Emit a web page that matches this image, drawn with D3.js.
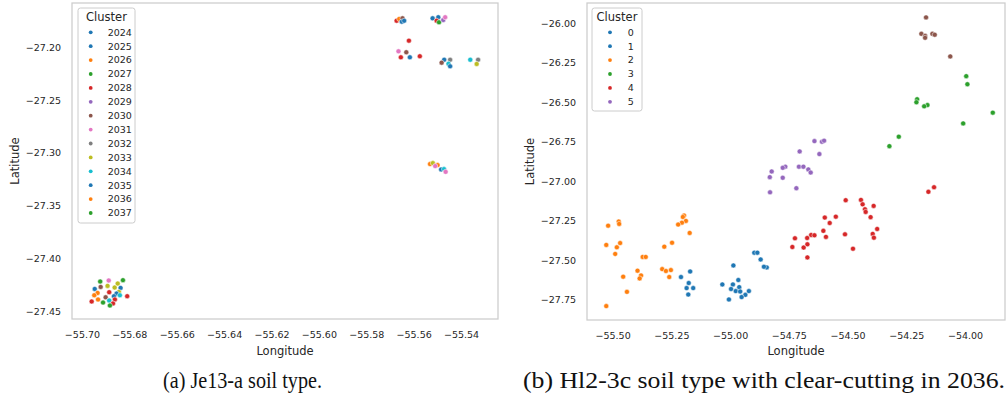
<!DOCTYPE html>
<html>
<head>
<meta charset="utf-8">
<script src="https://cdn.jsdelivr.net/npm/d3@7"></script>
<style>
  body { margin: 0; background: #fff; }
  svg { display: block; font-family: "DejaVu Sans", sans-serif; }
  .tick text { fill: #262626; font-size: 9.5px; font-family: "DejaVu Sans", sans-serif; }
  .lab { fill: #262626; font-size: 11.5px; font-family: "DejaVu Sans", sans-serif; }
  .cap { font-family: "Liberation Serif", serif; font-size: 22.5px; fill: #111; }
</style>
</head>
<body>
<svg width="1008" height="408"></svg>
<script>
// (a) Je13-a: [longitude, latitude, cluster year]
const pointsA = [
  [-55.5672, -27.1748, 2028], [-55.5661, -27.1731, 2026], [-55.5647, -27.1725, 2030],
  [-55.5650, -27.1757, 2024], [-55.5640, -27.1748, 2025], [-55.5520, -27.1725, 2035],
  [-55.5496, -27.1715, 2024], [-55.5503, -27.1748, 2028], [-55.5493, -27.1763, 2027],
  [-55.5475, -27.1741, 2029], [-55.5467, -27.1715, 2031], [-55.5620, -27.1937, 2028],
  [-55.5664, -27.2038, 2031], [-55.5631, -27.2047, 2030], [-55.5654, -27.2095, 2028],
  [-55.5616, -27.2095, 2025], [-55.5574, -27.2085, 2028], [-55.5471, -27.2118, 2035],
  [-55.5446, -27.2118, 2032], [-55.5482, -27.2146, 2030], [-55.5453, -27.2156, 2034],
  [-55.5446, -27.2180, 2024], [-55.5361, -27.2118, 2034], [-55.5328, -27.2118, 2032],
  [-55.5334, -27.2158, 2033],
  [-55.5531, -27.3107, 2036], [-55.5519, -27.3098, 2033], [-55.5499, -27.3117, 2026],
  [-55.5509, -27.3126, 2031], [-55.5484, -27.3158, 2025], [-55.5472, -27.3155, 2034],
  [-55.5465, -27.3181, 2031],
  [-55.6923, -27.4221, 2037], [-55.6887, -27.4211, 2031], [-55.6827, -27.4208, 2027],
  [-55.6849, -27.4240, 2033], [-55.6892, -27.4262, 2033], [-55.6921, -27.4272, 2030],
  [-55.6946, -27.4291, 2024], [-55.6862, -27.4278, 2033], [-55.6837, -27.4281, 2035],
  [-55.6934, -27.4329, 2026], [-55.6885, -27.4322, 2028], [-55.6844, -27.4319, 2033],
  [-55.6948, -27.4351, 2036], [-55.6854, -27.4335, 2025], [-55.6840, -27.4351, 2034],
  [-55.6900, -27.4370, 2030], [-55.6865, -27.4360, 2024], [-55.6809, -27.4360, 2028],
  [-55.6932, -27.4391, 2026], [-55.6959, -27.4410, 2028], [-55.6885, -27.4401, 2034],
  [-55.6861, -27.4391, 2028], [-55.6911, -27.4420, 2037], [-55.6869, -27.4429, 2028],
  [-55.6882, -27.4448, 2027]
];
const yearsA = [2024, 2025, 2026, 2027, 2028, 2029, 2030, 2031, 2032, 2033, 2034, 2035, 2036, 2037];
const xTicksA = [-55.70, -55.68, -55.66, -55.64, -55.62, -55.60, -55.58, -55.56, -55.54];
const yTicksA = [-27.20, -27.25, -27.30, -27.35, -27.40, -27.45];

// (b) Hl2-3c: [longitude, latitude, cluster]
const pointsB = [
  // cluster 2
  [-55.519, -27.280, 2], [-55.474, -27.254, 2], [-55.472, -27.269, 2], [-55.527, -27.402, 2],
  [-55.482, -27.417, 2], [-55.468, -27.390, 2], [-55.489, -27.459, 2], [-55.372, -27.478, 2],
  [-55.359, -27.478, 2], [-55.394, -27.565, 2], [-55.379, -27.595, 2], [-55.385, -27.614, 2],
  [-55.455, -27.603, 2], [-55.439, -27.699, 2], [-55.527, -27.789, 2], [-55.196, -27.216, 2],
  [-55.201, -27.225, 2], [-55.188, -27.250, 2], [-55.205, -27.261, 2], [-55.221, -27.273, 2],
  [-55.172, -27.326, 2], [-55.247, -27.388, 2], [-55.280, -27.413, 2], [-55.289, -27.555, 2],
  [-55.273, -27.567, 2], [-55.252, -27.561, 2], [-55.259, -27.605, 2],
  // clusters 0 and 1
  [-55.170, -27.570, 0], [-55.209, -27.605, 0], [-55.176, -27.643, 0], [-55.185, -27.675, 0],
  [-55.157, -27.675, 0], [-55.178, -27.716, 0], [-54.986, -27.532, 1], [-55.033, -27.652, 1],
  [-54.988, -27.652, 1], [-54.965, -27.624, 1], [-54.996, -27.681, 1], [-54.976, -27.694, 1],
  [-54.961, -27.669, 1], [-54.957, -27.697, 1], [-54.920, -27.694, 1], [-54.935, -27.718, 1],
  [-54.951, -27.732, 1], [-55.005, -27.747, 1], [-54.897, -27.451, 1], [-54.884, -27.451, 1],
  [-54.870, -27.494, 1], [-54.844, -27.544, 1], [-54.856, -27.540, 1],
  // cluster 5
  [-54.641, -26.745, 5], [-54.609, -26.749, 5], [-54.600, -26.742, 5], [-54.704, -26.810, 5],
  [-54.620, -26.827, 5], [-54.765, -26.907, 5], [-54.776, -26.914, 5], [-54.707, -26.907, 5],
  [-54.688, -26.907, 5], [-54.667, -26.924, 5], [-54.657, -26.944, 5], [-54.823, -26.937, 5],
  [-54.831, -26.973, 5], [-54.776, -26.977, 5], [-54.718, -27.043, 5], [-54.830, -27.069, 5],
  // cluster 4
  [-54.508, -27.119, 4], [-54.443, -27.117, 4], [-54.436, -27.145, 4], [-54.389, -27.155, 4],
  [-54.426, -27.176, 4], [-54.423, -27.193, 4], [-54.402, -27.226, 4], [-54.597, -27.229, 4],
  [-54.550, -27.223, 4], [-54.576, -27.263, 4], [-54.603, -27.313, 4], [-54.511, -27.335, 4],
  [-54.374, -27.301, 4], [-54.393, -27.332, 4], [-54.388, -27.356, 4], [-54.655, -27.339, 4],
  [-54.641, -27.341, 4], [-54.592, -27.351, 4], [-54.724, -27.360, 4], [-54.672, -27.358, 4],
  [-54.671, -27.398, 4], [-54.735, -27.415, 4], [-54.687, -27.419, 4], [-54.477, -27.426, 4],
  [-54.671, -27.481, 4], [-54.156, -27.066, 4], [-54.132, -27.037, 4],
  // cluster 3
  [-53.995, -26.334, 3], [-53.990, -26.385, 3], [-54.204, -26.480, 3], [-54.207, -26.499, 3],
  [-54.160, -26.517, 3], [-54.174, -26.525, 3], [-53.882, -26.565, 3], [-54.008, -26.633, 3],
  [-54.282, -26.717, 3], [-54.322, -26.777, 3],
  // cluster 6 (not listed in the legend)
  [-54.166, -25.962, 6], [-54.186, -26.066, 6], [-54.170, -26.079, 6], [-54.139, -26.066, 6],
  [-54.129, -26.072, 6], [-54.170, -26.091, 6], [-54.063, -26.209, 6]
];
const clustersB = [0, 1, 2, 3, 4, 5];
const xTicksB = [-55.50, -55.25, -55.00, -54.75, -54.50, -54.25, -54.00];
const yTicksB = [-26.00, -26.25, -26.50, -26.75, -27.00, -27.25, -27.50, -27.75];

const tab = d3.schemeCategory10;
const colorA = d3.scaleOrdinal()
  .domain(yearsA)
  .range([0, 0, 1, 2, 3, 4, 5, 6, 7, 8, 9, 0, 1, 2].map(i => tab[i]));
const colorB = d3.scaleOrdinal()
  .domain([0, 1, 2, 3, 4, 5, 6])
  .range([0, 0, 1, 2, 3, 4, 5].map(i => tab[i]));

const svg = d3.select('svg');

function drawPanel(opts) {
  const { left, right, top, bottom, xDom, yDom, xTicks, yTicks, points, color, legend, legendBox } = opts;
  const x = d3.scaleLinear().domain(xDom).range([left, right]);
  const y = d3.scaleLinear().domain(yDom).range([bottom, top]);
  const g = svg.append('g');

  g.append('rect')
    .attr('x', left).attr('y', top)
    .attr('width', right - left).attr('height', bottom - top)
    .attr('fill', '#fff').attr('stroke', '#cccccc').attr('stroke-width', 1.25);

  const fmt = d3.format('.2f');
  g.append('g')
    .attr('transform', `translate(0,${bottom})`)
    .call(d3.axisBottom(x).tickValues(xTicks).tickFormat(fmt).tickSize(0).tickPadding(12))
    .call(a => a.select('.domain').remove());
  g.append('g')
    .attr('transform', `translate(${left},0)`)
    .call(d3.axisLeft(y).tickValues(yTicks).tickFormat(fmt).tickSize(0).tickPadding(11))
    .call(a => a.select('.domain').remove());

  g.append('text').attr('class', 'lab')
    .attr('x', (left + right) / 2).attr('y', 355)
    .attr('text-anchor', 'middle').text('Longitude');
  g.append('text').attr('class', 'lab')
    .attr('transform', `translate(${opts.latX},${(top + bottom) / 2}) rotate(-90)`)
    .attr('text-anchor', 'middle').attr('dy', '0.35em').text('Latitude');

  g.append('g').selectAll('circle')
    .data(points)
    .join('circle')
    .attr('cx', d => x(d[0]))
    .attr('cy', d => y(d[1]))
    .attr('r', 2.5)
    .attr('fill', d => color(d[2]))
    .attr('stroke', '#fff')
    .attr('stroke-width', 0.5);

  // legend
  const lg = g.append('g');
  lg.append('rect')
    .attr('x', legendBox.x).attr('y', legendBox.y)
    .attr('width', legendBox.w).attr('height', legendBox.h)
    .attr('rx', 2.5)
    .attr('fill', 'rgba(255,255,255,0.8)')
    .attr('stroke', '#cccccc').attr('stroke-width', 1);
  lg.append('text').attr('class', 'lab')
    .attr('x', legendBox.x + legendBox.w / 2).attr('y', legendBox.y + 12.8)
    .attr('text-anchor', 'middle').text('Cluster');
  const items = lg.selectAll('g.item')
    .data(legend)
    .join('g').attr('class', 'item')
    .attr('transform', (d, i) => `translate(0,${legendBox.y + 24.3 + i * 13.9})`);
  items.append('circle')
    .attr('cx', legendBox.mx).attr('cy', 0).attr('r', 1.9)
    .attr('fill', d => color(d));
  items.append('text')
    .attr('x', legendBox.tx).attr('y', 0).attr('dy', '0.35em')
    .attr('fill', '#262626').attr('font-size', '9.5px')
    .text(d => d);
}

drawPanel({
  left: 72, right: 498, top: 3, bottom: 319,
  xDom: [-55.7042, -55.5244], yDom: [-27.4576, -27.158],
  xTicks: xTicksA, yTicks: yTicksA, points: pointsA, color: colorA,
  legend: yearsA, latX: 15,
  legendBox: { x: 78, y: 8, w: 57, h: 215, mx: 90.7, tx: 107.7 }
});

drawPanel({
  left: 587, right: 1005, top: 3, bottom: 320,
  xDom: [-55.609, -53.83], yDom: [-27.877, -25.871],
  xTicks: xTicksB, yTicks: yTicksB, points: pointsB, color: colorB,
  legend: clustersB, latX: 530,
  legendBox: { x: 592, y: 8, w: 50, h: 103, mx: 610, tx: 627.7 }
});

svg.append('text').attr('class', 'cap')
  .attr('x', 163).attr('y', 388)
  .attr('textLength', 159).attr('lengthAdjust', 'spacingAndGlyphs')
  .text('(a) Je13-a soil type.');
svg.append('text').attr('class', 'cap')
  .attr('x', 523).attr('y', 388)
  .attr('textLength', 482).attr('lengthAdjust', 'spacingAndGlyphs')
  .text('(b) Hl2-3c soil type with clear-cutting in 2036.');
</script>
</body>
</html>
